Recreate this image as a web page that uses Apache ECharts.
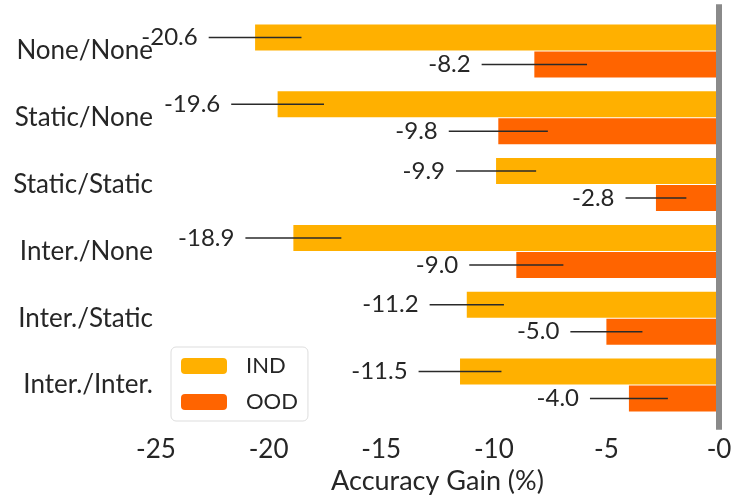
<!DOCTYPE html>
<html><head><meta charset="utf-8">
<script src="https://cdn.jsdelivr.net/npm/echarts@6/dist/echarts.min.js"></script>
<style>html,body{margin:0;padding:0;background:#fff}#c{width:748px;height:500px}</style>
</head><body><div id="c"></div>
<script>
const categories = ['None/None','Static/None','Static/Static','Inter./None','Inter./Static','Inter./Inter.'];
const seriesNames = ['IND','OOD'];
const indValues = [-20.6, -19.6, -9.9, -18.9, -11.2, -11.5];
const oodValues = [-8.2, -9.8, -2.8, -9.0, -5.0, -4.0];
const indErr = [2.06, 2.06, 1.78, 2.13, 1.65, 1.84];
const oodErr = [2.34, 2.2, 1.35, 2.09, 1.6, 1.73];
const xTickValues = [-25, -20, -15, -10, -5, 0];
const xTickLabels = ['-25', '-20', '-15', '-10', '-5', '-0'];

const FONT = 'Lato';
const TXT = '#262626';
const COLORS = ['#FFB000', '#FF6400'];
const BAR_W = 26, BAR_GAP = 1;

function errData(vals, errs, s) {
  return vals.map((v, i) => [v, i, errs[i], s]);
}
function renderErr(params, api) {
  const v = api.value(0), ci = api.value(1), e = api.value(2), s = api.value(3);
  const c = api.coord([v, ci]);
  const off = (s === 0 ? -1 : 1) * (BAR_W + BAR_GAP) / 2;
  const y = c[1] + off;
  const pL = api.coord([v - e, ci]), pR = api.coord([v + e, ci]);
  return {
    type: 'group',
    children: [
      { type: 'line', shape: { x1: pL[0], y1: y, x2: pR[0], y2: y }, style: { stroke: '#2a2a2a', lineWidth: 1.5 } },
      { type: 'text', x: pL[0] - 11, y: y, style: { text: v.toFixed(1), fill: TXT, font: '24px ' + FONT, align: 'right', verticalAlign: 'middle' } }
    ]
  };
}
function renderZeroLine(params, api) {
  const cs = params.coordSys;
  const band = cs.height / categories.length;
  const x = api.coord([0, 0])[0];
  return { type: 'line', shape: { x1: x, y1: cs.y - 0.2 * band, x2: x, y2: cs.y + cs.height + 0.17 * band },
           style: { stroke: '#8a8a8a', lineWidth: 6 } };
}

const chart = echarts.init(document.getElementById('c'), null, { renderer: 'canvas' });
chart.setOption({
  animation: false,
  textStyle: { fontFamily: FONT },
  grid: { left: 156, right: 29, top: 17.6, bottom: 81.6 },
  legend: {
    data: seriesNames, orient: 'vertical', left: 171, top: 347,
    itemWidth: 46, itemHeight: 16, itemGap: 14,
    padding: [8, 10, 8, 10], borderColor: '#dddddd', borderWidth: 1, borderRadius: 5,
    textStyle: { fontFamily: FONT, fontSize: 22, color: TXT, padding: [0, 0, 0, 14] }
  },
  xAxis: {
    type: 'value', min: -25, max: 0, interval: 5,
    axisLine: { show: false }, axisTick: { show: false }, splitLine: { show: false },
    axisLabel: { fontSize: 26, color: TXT, margin: 18,
      formatter: v => { const i = xTickValues.indexOf(v); return i >= 0 ? xTickLabels[i] : ''; } },
    name: 'Accuracy Gain (%)', nameLocation: 'middle', nameGap: 49,
    nameTextStyle: { fontSize: 27, color: TXT }
  },
  yAxis: {
    type: 'category', data: categories, inverse: true,
    axisLine: { show: false }, axisTick: { show: false }, splitLine: { show: false },
    axisLabel: { fontSize: 26, color: TXT, margin: 3 }
  },
  series: [
    { name: 'IND', type: 'bar', data: indValues, barWidth: BAR_W, barGap: (BAR_GAP / BAR_W * 100) + '%', itemStyle: { color: COLORS[0] }, z: 2 },
    { name: 'OOD', type: 'bar', data: oodValues, barWidth: BAR_W, itemStyle: { color: COLORS[1] }, z: 2 },
    { type: 'custom', renderItem: renderErr, data: errData(indValues, indErr, 0).concat(errData(oodValues, oodErr, 1)), z: 5, silent: true },
    { type: 'custom', renderItem: renderZeroLine, data: [[0, 0]], z: 6, silent: true, clip: false }
  ]
});
</script></body></html>
